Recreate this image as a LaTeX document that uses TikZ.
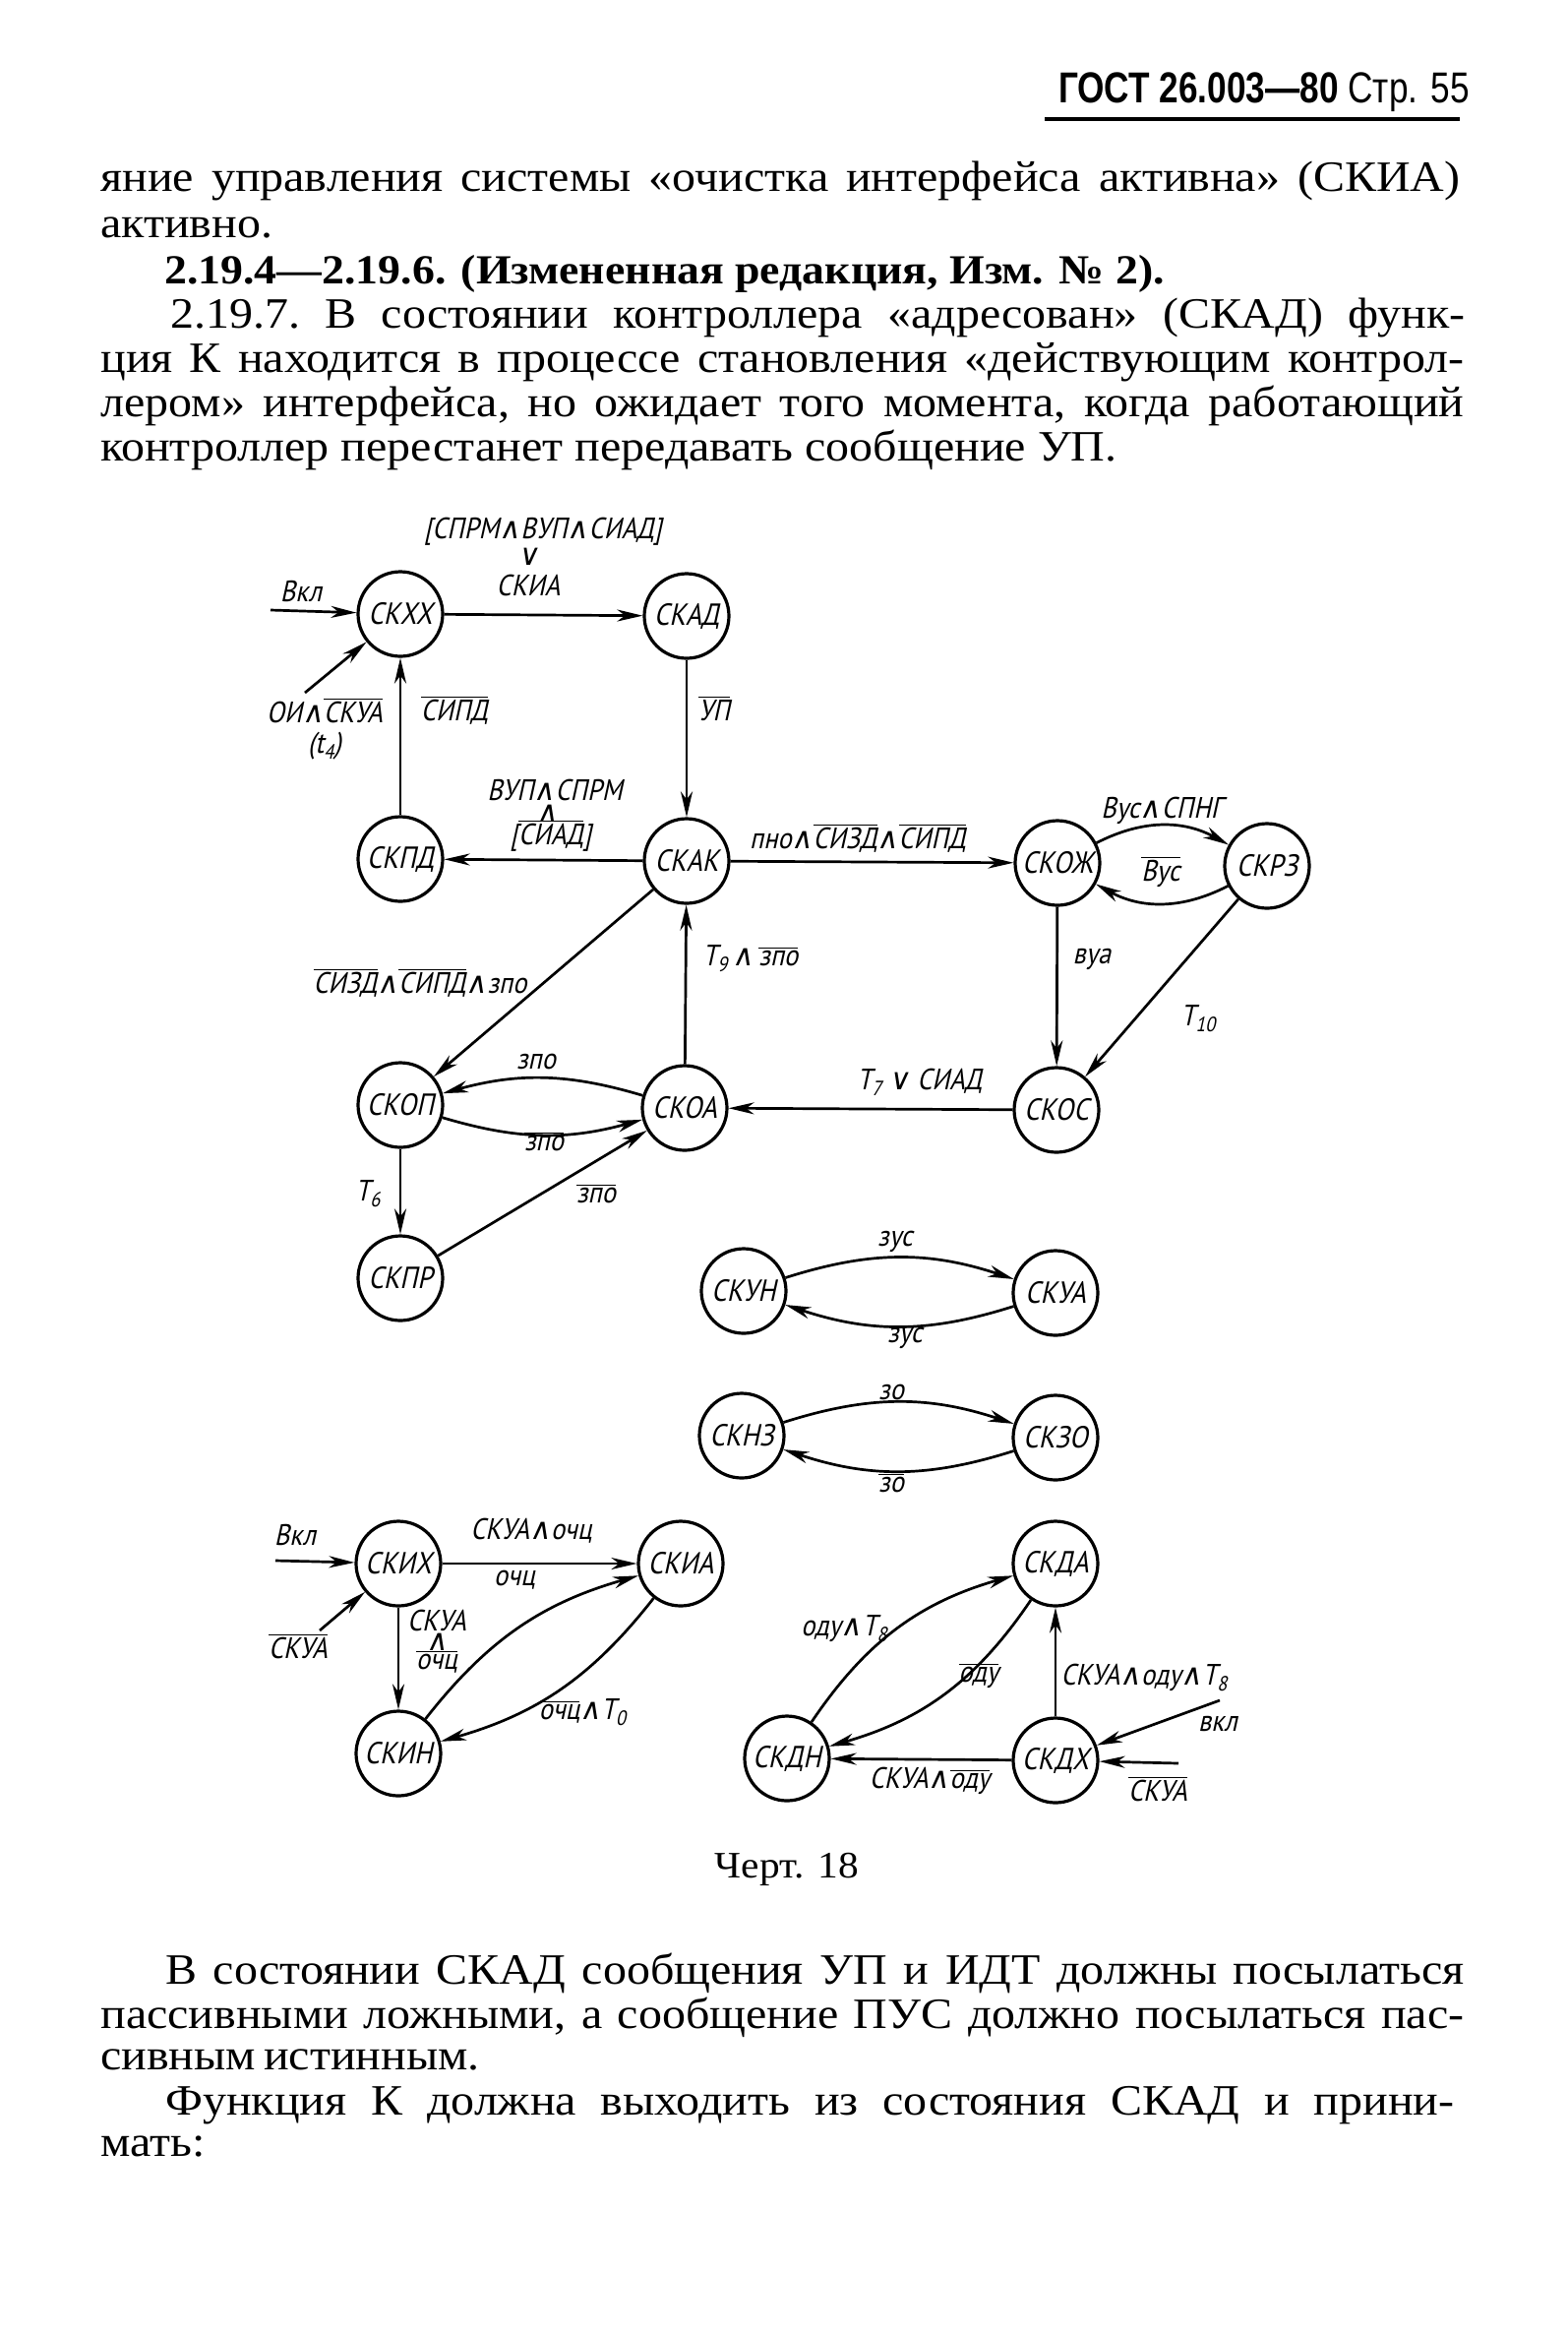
\documentclass[tikz,border=0pt]{standalone}
\usepackage{fontspec}
\setmainfont[FakeStretch=1.09]{Liberation Serif}
\newfontfamily\dr[FakeStretch=0.88,FakeSlant=0.22]{PT Sans}
\newfontfamily\sy[FakeSlant=0.15]{DejaVu Sans}
\newfontfamily\hd[FakeStretch=0.8]{Liberation Sans}
\usetikzlibrary{arrows.meta}
\newcommand\la{{\sy ∧}}
\newcommand\lo{{\sy ∨}}
\newcommand\ovl[1]{$\overline{\hbox{#1}}$}
\newcommand\sbs[1]{\raisebox{-0.4ex}{\fontsize{10.5}{10.5}\selectfont #1}}
\newcommand\bodyf{\fontsize{22}{25}\selectfont\frenchspacing}
\tikzset{
  st/.style={circle, draw, line width=1.6pt, minimum size=43pt, inner sep=0pt,
    font=\dr\fontsize{15.5}{15.5}\selectfont},
  lb/.style={font=\dr\fontsize{15}{16}\selectfont, inner sep=0.5pt},
  ar/.style={line width=1.35pt, -{Stealth[length=13pt,width=6pt,inset=4pt]}},
  tx/.style={anchor=base west, inner sep=0pt, font=\bodyf},
}
\begin{document}
\begin{tikzpicture}[x=0.5pt,y=-0.5pt]
\useasboundingbox (0,0) rectangle (1594,2373);
\fill[white] (0,0) rectangle (1594,2373);

% header
\node[anchor=base east, inner sep=0pt, font=\hd\fontsize{22}{24}\selectfont] (hdr) at (1494,104) {\textbf{ГОСТ 26.003—80} Стр. 55};
\draw[line width=1.6pt] (1062,121) -- (1484,121);

% top text
\node[tx] (t1) at (102,194) {\makebox[691pt][s]{яние управления системы «очистка интерфейса активна» (СКИА)}};
\node[tx] (t2) at (102,241) {активно.};
\node[tx, font=\fontsize{21}{24}\selectfont] (t3) at (167,288) {\bfseries 2.19.4—2.19.6. (Измененная редакция, Изм. № 2).};
\node[tx] (t4) at (173,333) {\makebox[658pt][s]{2.19.7. В состоянии контроллера «адресован» (СКАД) функ-}};
\node[tx] (t5) at (102,378) {\makebox[693pt][s]{ция К находится в процессе становления «действующим контрол-}};
\node[tx] (t6) at (102,423) {\makebox[693pt][s]{лером» интерфейса, но ожидает того момента, когда работающий}};
\node[tx] (t7) at (102,468) {контроллер перестанет передавать сообщение УП.};

% states
\node[st] (skxx) at (407,624) {СКХХ};
\node[st] (skad) at (698,626) {СКАД};
\node[st] (skpd) at (407,873) {СКПД};
\node[st] (skak) at (698,875) {СКАК};
\node[st] (skozh) at (1075,877) {СКОЖ};
\node[st] (skrz) at (1288,880) {СКРЗ};
\node[st] (skop) at (407,1123) {СКОП};
\node[st] (skoa) at (696,1126) {СКОА};
\node[st] (skos) at (1074,1128) {СКОС};
\node[st] (skpr) at (407,1299) {СКПР};
\node[st] (skun) at (756,1312) {СКУН};
\node[st] (skua) at (1073,1314) {СКУА};
\node[st] (sknz) at (754,1459) {СКНЗ};
\node[st] (skzo) at (1073,1461) {СКЗО};
\node[st] (skix) at (405,1589) {СКИХ};
\node[st] (skia) at (692,1589) {СКИА};
\node[st] (skin) at (405,1782) {СКИН};
\node[st] (skda) at (1073,1589) {СКДА};
\node[st] (skdn) at (800,1787) {СКДН};
\node[st] (skdx) at (1073,1789) {СКДХ};

% free ends
\coordinate (v1) at (275,620);
\coordinate (oi) at (310,704);
\coordinate (v2) at (280,1586);
\coordinate (u2) at (325,1657);
\coordinate (v3) at (1240,1728);
\coordinate (u3) at (1198,1792);

% connectors
\draw[ar] (v1) -- (skxx);
\draw[ar] (oi) -- (skxx);
\draw[ar] (skxx) -- (skad);
\draw[ar] (skad) -- (skak);
\draw[ar] (skak) -- (skpd);
\draw[ar] (skpd) -- (skxx);
\draw[ar] (skak) -- (skozh);
\draw[ar] (skozh) to[bend left=28] (skrz);
\draw[ar] (skrz) to[bend left=28] (skozh);
\draw[ar] (skozh) -- (skos);
\draw[ar] (skrz) -- (skos);
\draw[ar] (skos) -- (skoa);
\draw[ar] (skoa) -- (skak);
\draw[ar] (skak) -- (skop);
\draw[ar] (skoa) to[bend right=16] (skop);
\draw[ar] (skop) to[bend right=16] (skoa);
\draw[ar] (skop) -- (skpr);
\draw[ar] (skpr) -- (skoa);
\draw[ar] (skun) to[bend left=18] (skua);
\draw[ar] (skua) to[bend left=18] (skun);
\draw[ar] (sknz) to[bend left=18] (skzo);
\draw[ar] (skzo) to[bend left=18] (sknz);
\draw[ar] (v2) -- (skix);
\draw[ar] (u2) -- (skix);
\draw[ar] (skix) -- (skia);
\draw[ar] (skix) -- (skin);
\draw[ar] (skin) to[bend left=18] (skia);
\draw[ar] (skia) to[bend left=18] (skin);
\draw[ar] (skdx) -- (skda);
\draw[ar] (skdx) -- (skdn);
\draw[ar] (skdn) to[bend left=20] (skda);
\draw[ar] (skda) to[bend left=20] (skdn);
\draw[ar] (v3) -- (skdx);
\draw[ar] (u3) -- (skdx);

% labels
\node[lb] (L1) at (552,540) {[СПРМ\la ВУП\la СИАД]};
\node[lb] (L2) at (537,566) {\lo};
\node[lb] (L3) at (537,595) {СКИА};
\node[lb] (L4) at (306,601) {Вкл};
\node[lb] (L5) at (330,722) {ОИ\la\ovl{СКУА}};
\node[lb] (L6) at (330,758) {(t\sbs{4})};
\node[lb] (L7) at (462,722) {\ovl{СИПД}};
\node[lb] (L8) at (726,720) {\ovl{УП}};
\node[lb] (L9) at (564,803) {ВУП\la СПРМ};
\node[lb] (L10) at (556,827) {\la};
\node[lb] (L11) at (560,849) {[\ovl{СИАД}]};
\node[lb] (L12) at (872,852) {пно\la\ovl{СИЗД}\la\ovl{СИПД}};
\node[lb] (L13) at (1181,824) {Вус\la СПНГ};
\node[lb] (L14) at (1180,886) {\ovl{Вус}};
\node[lb] (L15) at (1110,975) {вуа};
\node[lb] (L16) at (1218,1035) {T\sbs{10}};
\node[lb] (L17) at (763,974) {T\sbs{9}\,\la\,\ovl{зпо}};
\node[lb] (L18) at (427,999) {\ovl{СИЗД}\la\ovl{СИПД}\la зпо};
\node[lb] (L19) at (545,1079) {зпо};
\node[lb] (L20) at (553,1160) {\ovl{зпо}};
\node[lb] (L21) at (935,1100) {T\sbs{7} \lo\ СИАД};
\node[lb] (L22) at (374,1213) {T\sbs{6}};
\node[lb] (L23) at (606,1213) {\ovl{зпо}};
\node[lb] (L24) at (910,1262) {зус};
\node[lb] (L25) at (920,1360) {зус};
\node[lb] (L26) at (906,1415) {зо};
\node[lb] (L27) at (906,1507) {\ovl{зо}};
\node[lb] (L28) at (300,1560) {Вкл};
\node[lb] (L29) at (303,1673) {\ovl{СКУА}};
\node[lb] (L30) at (540,1556) {СКУА\la очц};
\node[lb] (L31) at (523,1606) {очц};
\node[lb, inner sep=0pt] (L32) at (444,1647) {СКУА};
\node[lb, inner sep=0pt] (L33) at (444,1669) {\la};
\node[lb, inner sep=0pt] (L34) at (444,1689) {\ovl{очц}};
\node[lb] (L35) at (592,1740) {\ovl{очц}\la T\sbs{0}};
\node[lb] (L36) at (858,1655) {оду\la T\sbs{8}};
\node[lb] (L37) at (995,1703) {\ovl{оду}};
\node[lb] (L38) at (1163,1705) {СКУА\la оду\la T\sbs{8}};
\node[lb] (L39) at (1238,1752) {вкл};
\node[lb] (L40) at (1177,1818) {\ovl{СКУА}};
\node[lb] (L41) at (945,1810) {СКУА\la\ovl{оду}};

% caption and bottom text
\node[font=\fontsize{19}{22}\selectfont, inner sep=0pt] (cap) at (800,1900) {Черт. 18};
\node[tx] (b1) at (168,2016) {\makebox[660pt][s]{В состоянии СКАД сообщения УП и ИДТ должны посылаться}};
\node[tx] (b2) at (102,2061) {\makebox[693pt][s]{пассивными ложными, а сообщение ПУС должно посылаться пас-}};
\node[tx] (b3) at (102,2103) {\makebox[185pt][s]{сивным истинным.}};
\node[tx] (b4) at (168,2149) {\makebox[655pt][s]{Функция К должна выходить из состояния СКАД и прини-}};
\node[tx] (b5) at (102,2191) {мать:};
\end{tikzpicture}
\end{document}
